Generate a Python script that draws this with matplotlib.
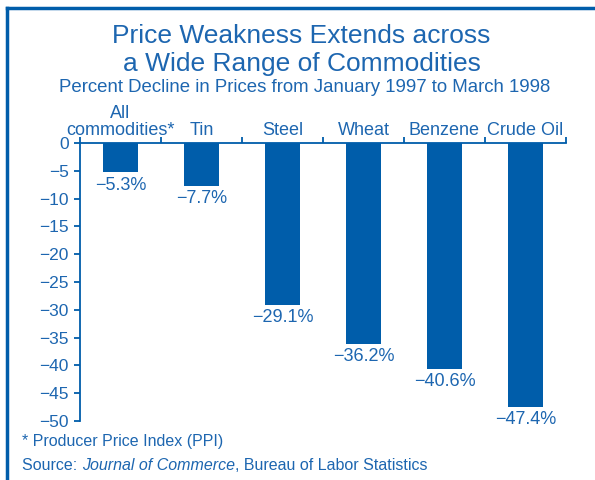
import matplotlib
matplotlib.use("Agg")
import matplotlib.pyplot as plt
from matplotlib.lines import Line2D
from matplotlib.transforms import offset_copy
import numpy as np

# data
categories = ["All\ncommodities*", "Tin", "Steel", "Wheat", "Benzene", "Crude Oil"]
declines = [-5.3, -7.7, -29.1, -36.2, -40.6, -47.4]
yticks = [0, -5, -10, -15, -20, -25, -30, -35, -40, -45, -50]

bar_color = "#005daa"
text_color = "#1d66b0"

plt.rcParams["font.family"] = ["Liberation Sans", "DejaVu Sans"]

fig = plt.figure(figsize=(5.95, 4.8), dpi=100)
ax = fig.add_axes([80/595, 1 - 421/480, 486/595, 278/480])

x = np.arange(len(categories))
ax.bar(x, declines, width=0.42, color=bar_color, zorder=2)

ax.set_xlim(-0.5, len(categories) - 0.5)
ax.set_ylim(-50, 0)

# only left and top spines
for s in ["right", "bottom"]:
    ax.spines[s].set_visible(False)
for s in ["left", "top"]:
    ax.spines[s].set_color(bar_color)
    ax.spines[s].set_linewidth(1.3)

ax.set_yticks(yticks)
ax.set_yticklabels([str(v).replace("-", "\u2212") for v in yticks])
ax.tick_params(axis="y", direction="out", length=4, width=1.3, color=bar_color,
               labelcolor=text_color, labelsize=12.5, pad=4)

# boundary ticks on the top axis
ax.xaxis.tick_top()
ax.set_xticks(np.arange(len(categories) + 1) - 0.5)
ax.set_xticklabels([])
ax.tick_params(axis="x", direction="out", length=4, width=1.3, color=bar_color)

# category labels above the axis
for xi, name in zip(x, categories):
    ax.annotate(name, (xi, 0), xytext=(0, 3), textcoords="offset points",
                ha="center", va="bottom", fontsize=13, color=text_color,
                linespacing=0.95)

# value labels under the bars
for xi, v in zip(x, declines):
    ax.annotate(f"{v:.1f}%".replace("-", "\u2212"), (xi, v), xytext=(0, -3),
                textcoords="offset points", ha="center", va="top",
                fontsize=13, color=text_color)

# titles
fig.text(0.507, 1 - 36/480, "Price Weakness Extends across",
         ha="center", va="center", fontsize=19, color=text_color)
fig.text(0.507, 1 - 64/480, "a Wide Range of Commodities",
         ha="center", va="center", fontsize=19, color=text_color)
fig.text(0.512, 1 - 88/480, "Percent Decline in Prices from January 1997 to March 1998",
         ha="center", va="center", fontsize=13.4, color=text_color)

# footnotes
fig.text(22/595, 1 - 446/480, "* Producer Price Index (PPI)",
         ha="left", va="baseline", fontsize=11.5, color=text_color)

# source line with italic publication name, pieces placed one after another
parts = [("Source: ", "normal"), ("Journal of Commerce", "italic"),
         (", Bureau of Labor Statistics", "normal")]
fig.canvas.draw()
renderer = fig.canvas.get_renderer()
shift = 0
for txt, style in parts:
    t = fig.text(22/595, 1 - 470/480, txt, ha="left", va="baseline",
                 fontsize=11.5, fontstyle=style, color=text_color,
                 transform=offset_copy(fig.transFigure, fig=fig, x=shift, y=0, units="dots"))
    shift += t.get_window_extent(renderer).width

# frame lines at top and left
fig.add_artist(Line2D([7/595, 1], [1 - 8/480, 1 - 8/480], transform=fig.transFigure,
                      color=bar_color, linewidth=2.5))
fig.add_artist(Line2D([7/595, 7/595], [0, 1 - 8/480], transform=fig.transFigure,
                      color=bar_color, linewidth=2.5))

fig.savefig("out.png", dpi=100)
